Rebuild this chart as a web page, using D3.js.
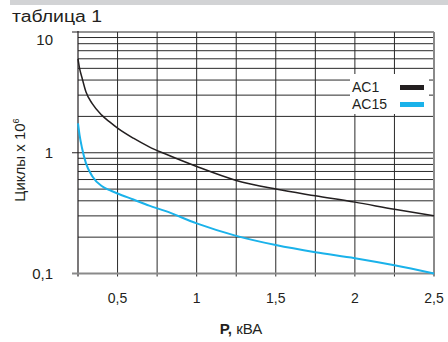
<!DOCTYPE html>
<html><head><meta charset="utf-8">
<script src="https://cdn.jsdelivr.net/npm/d3@7"></script>
<style>
html,body{margin:0;padding:0;background:#fff;}
svg{display:block;font-family:"Liberation Sans",Arial,sans-serif;}
</style></head>
<body>
<svg id="c" width="448" height="342"></svg>
<script>
const title = "таблица 1";
const yLabel = "Циклы x 10";
const xLabelBold = "P,";
const xLabelRest = " кВА";
const seriesNames = ["AC1", "AC15"];
const seriesColors = ["#231f20", "#1ab2ea"];
const pValues = [0.25, 0.26, 0.275, 0.30, 0.34, 0.40, 0.45, 0.50, 0.60, 0.70, 0.80, 1.00, 1.25, 1.50, 1.75, 2.00, 2.25, 2.50];
const ac1 =     [6.0, 5.0, 4.2, 3.2, 2.55, 2.05, 1.8, 1.6, 1.32, 1.12, 0.98, 0.77, 0.59, 0.50, 0.44, 0.39, 0.34, 0.30];
const ac15 =    [1.75, 1.4, 1.1, 0.82, 0.64, 0.53, 0.49, 0.46, 0.41, 0.365, 0.33, 0.26, 0.205, 0.172, 0.15, 0.134, 0.117, 0.10];
const xTickValues = [0.5, 1, 1.5, 2, 2.5];
const xTickLabels = ["0,5", "1", "1,5", "2", "2,5"];
const xGridValues = [0.25, 0.5, 0.75, 1, 1.25, 1.5, 1.75, 2, 2.25, 2.5];
const yTickValues = [0.1, 1, 10];
const yTickLabels = ["0,1", "1", "10"];

const svg = d3.select("#c");
const x = d3.scaleLinear().domain([0.25, 2.5]).range([78, 434]);
const y = d3.scaleLog().domain([0.1, 10]).range([273.5, 32]);

// top band
svg.append("rect").attr("x", 10).attr("y", 0).attr("width", 438).attr("height", 5).attr("fill", "#d2d3d5");

// title
svg.append("text").attr("x", 12).attr("y", 22).attr("font-size", 16)
  .attr("textLength", 90).attr("lengthAdjust", "spacingAndGlyphs")
  .attr("fill", "#231f20").text(title);

// horizontal grid (log minor lines)
const yGrid = [];
for (let d = 0.1; d < 10; d *= 10) for (let k = 1; k <= 9; k++) yGrid.push(+(d * k).toPrecision(3));
yGrid.push(10);
svg.append("g").selectAll("line").data(yGrid.filter(v => v > 0.1)).join("line")
  .attr("x1", x(0.25)).attr("x2", x(2.5))
  .attr("y1", d => y(d)).attr("y2", d => y(d))
  .attr("stroke", "#2a2a2a").attr("stroke-width", 1);

// vertical grid
svg.append("g").selectAll("line").data(xGridValues.slice(1, -1)).join("line")
  .attr("x1", d => x(d)).attr("x2", d => x(d))
  .attr("y1", y(10)).attr("y2", y(0.1) + 3)
  .attr("stroke", "#2a2a2a").attr("stroke-width", 1);

// left axis line
svg.append("line").attr("x1", x(0.25)).attr("x2", x(0.25)).attr("y1", y(10) - 1).attr("y2", y(0.1) + 3)
  .attr("stroke", "#231f20").attr("stroke-width", 1.2);
// right border
svg.append("line").attr("x1", x(2.5)).attr("x2", x(2.5)).attr("y1", y(10)).attr("y2", y(0.1) + 3)
  .attr("stroke", "#8a8a8a").attr("stroke-width", 2);
// bottom border
svg.append("line").attr("x1", x(0.25) - 6).attr("x2", x(2.5)).attr("y1", y(0.1)).attr("y2", y(0.1))
  .attr("stroke", "#8a8a8a").attr("stroke-width", 2);

// left y ticks
svg.append("g").selectAll("line").data(yTickValues.filter(v => v > 0.1)).join("line")
  .attr("x1", x(0.25) - 6).attr("x2", x(0.25))
  .attr("y1", d => y(d)).attr("y2", d => y(d))
  .attr("stroke", "#231f20").attr("stroke-width", 1);

// y tick labels
svg.append("g").selectAll("text").data(yTickValues).join("text")
  .attr("x", 53).attr("y", d => y(d) + (d === 10 ? 13 : 5))
  .attr("text-anchor", "end").attr("font-size", 15).attr("fill", "#231f20")
  .text((d, i) => yTickLabels[i]);

// x tick labels
svg.append("g").selectAll("text").data(xTickValues).join("text")
  .attr("x", d => x(d)).attr("y", 303)
  .attr("text-anchor", "middle").attr("font-size", 14).attr("fill", "#231f20")
  .text((d, i) => xTickLabels[i]);

// curves
const line = d3.line().x((d, i) => x(pValues[i])).y(d => y(d)).curve(d3.curveMonotoneX);
svg.append("path").datum(ac1).attr("d", line).attr("fill", "none")
  .attr("stroke", seriesColors[0]).attr("stroke-width", 1.5);
svg.append("path").datum(ac15).attr("d", line).attr("fill", "none")
  .attr("stroke", seriesColors[1]).attr("stroke-width", 2);

// legend
const lg = svg.append("g");
lg.append("rect").attr("x", 350).attr("y", 74).attr("width", 79).attr("height", 40).attr("fill", "#fff");
seriesNames.forEach((n, i) => {
  lg.append("text").attr("x", 352).attr("y", 92 + i * 17).attr("font-size", 14).attr("fill", "#231f20").text(n);
  lg.append("rect").attr("x", 400).attr("y", 85 + i * 17).attr("width", 24).attr("height", 5).attr("fill", seriesColors[i]);
});

// y label
const yl = svg.append("text").attr("transform", "translate(25,160) rotate(-90)")
  .attr("text-anchor", "middle").attr("font-size", 15).attr("fill", "#231f20");
yl.append("tspan").text(yLabel);
yl.append("tspan").attr("font-size", 9).attr("dy", -6).text("6");

// x label
const xl = svg.append("text").attr("x", 241).attr("y", 334).attr("text-anchor", "middle")
  .attr("font-size", 15).attr("fill", "#231f20");
xl.append("tspan").attr("font-weight", "bold").text(xLabelBold);
xl.append("tspan").text(xLabelRest);
</script>
</body></html>
